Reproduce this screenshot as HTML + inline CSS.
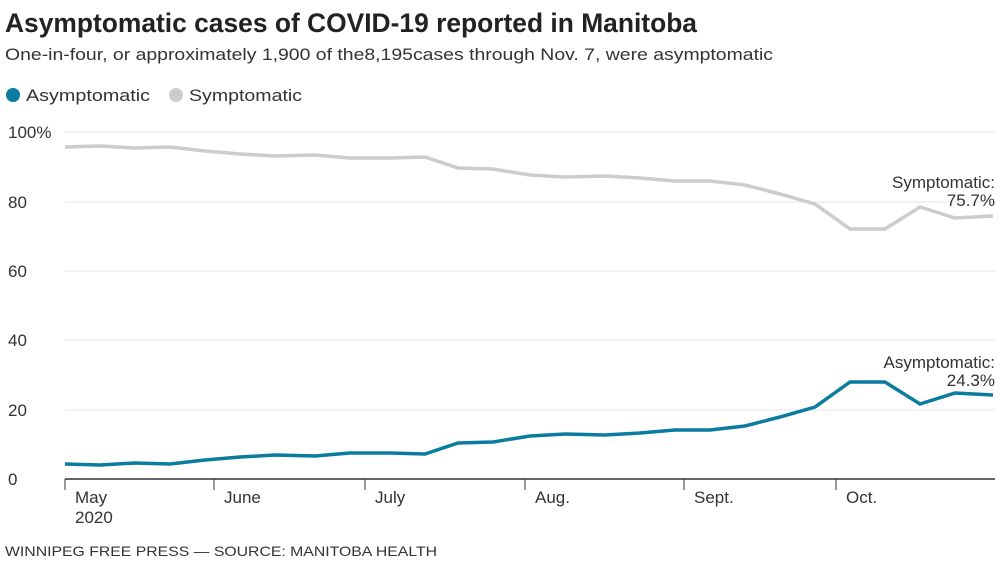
<!DOCTYPE html>
<html><head><meta charset="utf-8"><style>
body{margin:0;background:#fff;width:1000px;height:561px;overflow:hidden;font-family:"Liberation Sans",sans-serif;}
</style></head><body>
<svg width="1000" height="561" xmlns="http://www.w3.org/2000/svg" font-family="Liberation Sans, sans-serif">
<text x="5" y="32" font-size="27" font-weight="bold" fill="#222" textLength="692" lengthAdjust="spacingAndGlyphs">Asymptomatic cases of COVID-19 reported in Manitoba</text>
<text x="5" y="60" font-size="17" fill="#333" textLength="768" lengthAdjust="spacingAndGlyphs">One-in-four, or approximately 1,900 of the8,195cases through Nov. 7, were asymptomatic</text>
<circle cx="13" cy="95" r="7" fill="#0a7ca0"/><text x="26" y="101" font-size="17" fill="#333" textLength="124" lengthAdjust="spacingAndGlyphs">Asymptomatic</text>
<circle cx="176" cy="95" r="7" fill="#cccccc"/><text x="189" y="101" font-size="17" fill="#333" textLength="113" lengthAdjust="spacingAndGlyphs">Symptomatic</text>
<g stroke="#e6e6e6" stroke-width="1">
<line x1="65" y1="132" x2="995" y2="132"/><line x1="65" y1="202" x2="995" y2="202"/><line x1="65" y1="271" x2="995" y2="271"/><line x1="65" y1="340" x2="995" y2="340"/><line x1="65" y1="410" x2="995" y2="410"/>
</g>
<line x1="65" y1="479" x2="995" y2="479" stroke="#333" stroke-width="1.5"/>
<g font-size="17" fill="#333">
<text x="8" y="138">100%</text><text x="8" y="208">80</text><text x="8" y="277">60</text><text x="8" y="346">40</text><text x="8" y="416">20</text><text x="8" y="485">0</text>
<text x="75" y="503">May</text><text x="75" y="523">2020</text><text x="224" y="503">June</text><text x="375" y="503">July</text><text x="535" y="503">Aug.</text><text x="694" y="503">Sept.</text><text x="846" y="503">Oct.</text>
</g>
<g stroke="#333" stroke-width="1"><line x1="65" y1="479" x2="65" y2="490"/><line x1="214" y1="479" x2="214" y2="490"/><line x1="365" y1="479" x2="365" y2="490"/><line x1="525" y1="479" x2="525" y2="490"/><line x1="684" y1="479" x2="684" y2="490"/><line x1="836" y1="479" x2="836" y2="490"/></g>
<polyline fill="none" stroke="#cccccc" stroke-width="3.5" points="65,147 100,146 135,148 170,147 205,151 240,154 275,156 315,155 350,158 390,158 425,157 458,168 493,169 530,175 565,177 605,176 640,178 675,181 710,181 745,185 780,194 815,204 850,229 885,229 920,207 955,218 993,216"/>
<polyline fill="none" stroke="#0a7ca0" stroke-width="3.5" points="65,464 100,465 135,463 170,464 205,460 240,457 275,455 315,456 350,453 390,453 425,454 458,443 493,442 530,436 565,434 605,435 640,433 675,430 710,430 745,426 780,417 815,407 850,382 885,382 920,404 955,393 993,395"/>
<g font-size="17" fill="#333" text-anchor="end">
<text x="995" y="188">Symptomatic:</text><text x="995" y="206">75.7%</text>
<text x="995" y="368">Asymptomatic:</text><text x="995" y="386">24.3%</text>
</g>
<text x="5" y="556" font-size="14" fill="#333" textLength="432" lengthAdjust="spacingAndGlyphs">WINNIPEG FREE PRESS — SOURCE: MANITOBA HEALTH</text>
</svg>
</body></html>
